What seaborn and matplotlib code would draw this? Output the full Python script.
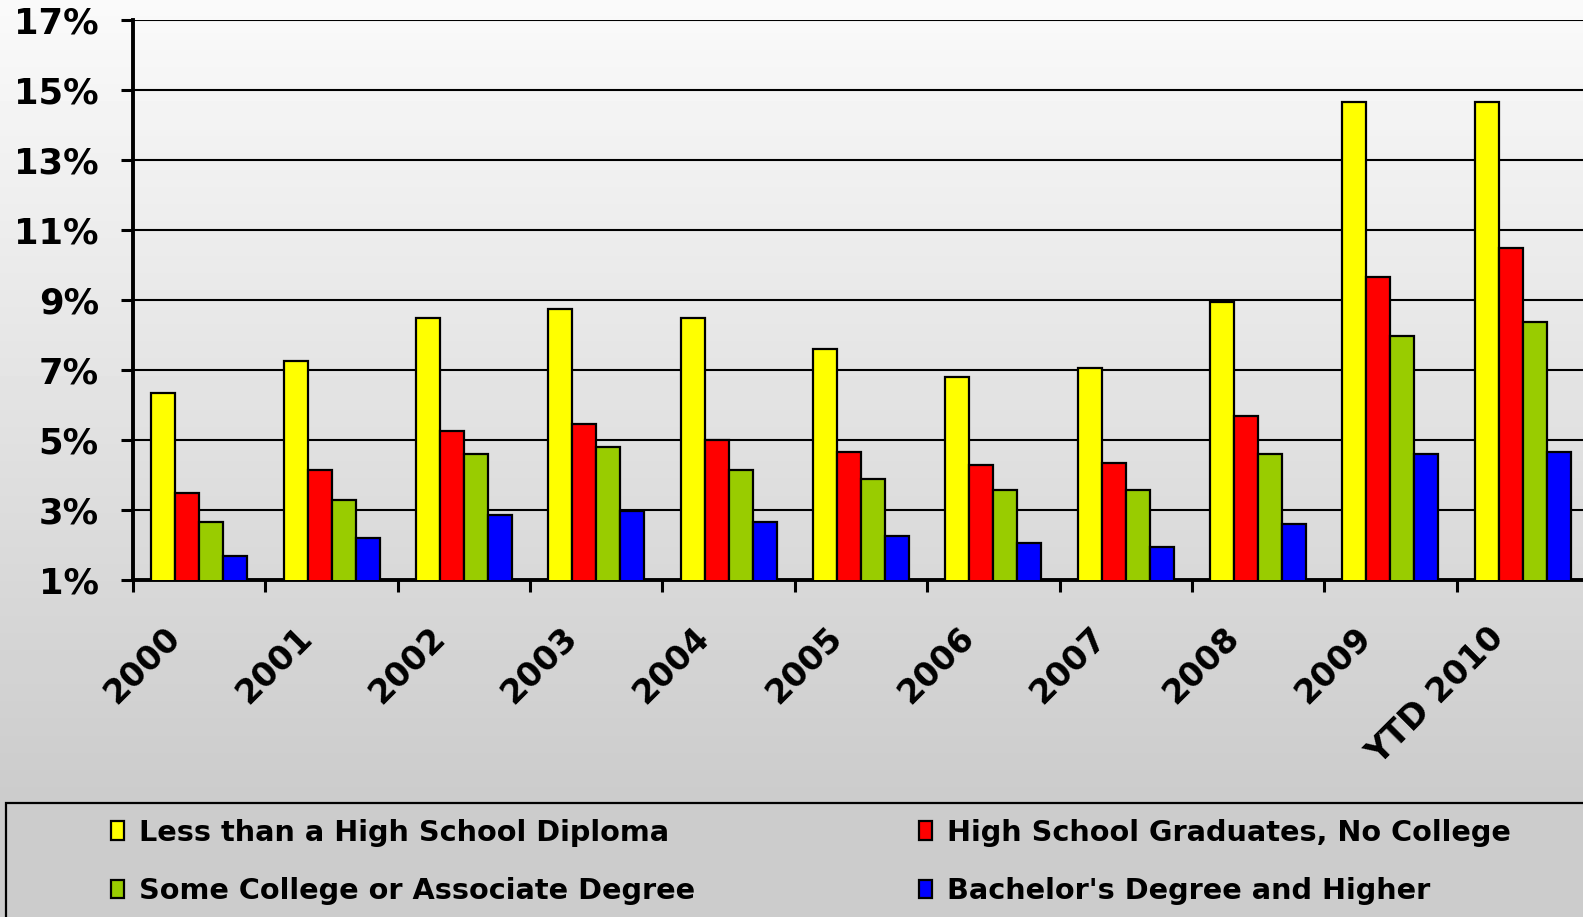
import numpy as np
import pandas as pd
import matplotlib
matplotlib.use("Agg")
import matplotlib.pyplot as plt
import matplotlib.transforms as mtransforms
import seaborn as sns
from matplotlib.patches import Rectangle
from matplotlib.ticker import FixedLocator

years = ["2000", "2001", "2002", "2003", "2004", "2005", "2006", "2007", "2008", "2009", "YTD 2010"]
series = ["Less than a High School Diploma", "High School Graduates, No College",
          "Some College or Associate Degree", "Bachelor's Degree and Higher"]
less_hs = [6.35, 7.27, 8.49, 8.75, 8.49, 7.59, 6.81, 7.07, 8.95, 14.67, 14.67]
hs_grad = [3.50, 4.13, 5.25, 5.45, 4.99, 4.67, 4.28, 4.34, 5.69, 9.67, 10.50]
some_col = [2.65, 3.30, 4.60, 4.79, 4.14, 3.89, 3.56, 3.56, 4.59, 7.97, 8.36]
bachelor = [1.68, 2.21, 2.85, 2.98, 2.65, 2.26, 2.07, 1.94, 2.59, 4.59, 4.66]
colors = ["#FFFF00", "#FF0000", "#99CC00", "#0000FF"]
yticks = [1, 3, 5, 7, 9, 11, 13, 15, 17]

rows = []
for s, vals in zip(series, [less_hs, hs_grad, some_col, bachelor]):
    for y, v in zip(years, vals):
        rows.append({"year": y, "series": s, "value": v})
df = pd.DataFrame(rows)

sns.set_theme(style="white")
plt.rcParams['font.family'] = ['DejaVu Sans']
plt.rcParams['text.color'] = 'black'
plt.rcParams['xtick.color'] = 'black'
plt.rcParams['ytick.color'] = 'black'
plt.rcParams['axes.labelcolor'] = 'black'

fig = plt.figure(figsize=(15.83, 9.17), dpi=100)

# gradient background
bg = fig.add_axes([0, 0, 1, 1], zorder=-10)
h = 917
yy = np.arange(h)
vals = np.clip(0.98 - (0.98 - 0.80) * yy / 790.0, 0.80, 1.0)
grad = np.repeat(vals[:, None], 10, axis=1)
bg.imshow(grad, cmap="gray", vmin=0, vmax=1, aspect="auto", extent=[0, 1, 0, 1], origin="upper")
bg.axis("off")

ax = fig.add_axes([133 / 1583, 1 - 580 / 917, 1456 / 1583, 560 / 917])
ax.set_facecolor("none")

sns.barplot(data=df, x="year", y="value", hue="series", order=years, hue_order=series,
            palette=colors, width=0.725, edgecolor="black", linewidth=1.6, ax=ax,
            saturation=1, zorder=3)

ax.set_xlim(-0.5, len(years) - 0.5)
ax.set_ylim(1, 17)
ax.set_yticks(yticks)
ax.set_yticklabels([f"{t}%" for t in yticks], fontsize=25.5, fontweight="bold")
ax.yaxis.grid(True, color="black", linewidth=1.5, zorder=0)
ax.set_axisbelow(True)
ax.tick_params(axis="y", direction="out", length=8.6, width=2.2, pad=16, left=True, colors="black")

ax.set_xticks(range(len(years)))
ax.set_xticklabels(years, fontsize=24, fontweight="bold", rotation=45, ha="right",
                   va="center", rotation_mode="anchor")
ax.tick_params(axis="x", which="major", length=0, pad=38)
offset = mtransforms.ScaledTranslation(-24 / 100, 0, fig.dpi_scale_trans)
for lab in ax.get_xticklabels():
    lab.set_transform(lab.get_transform() + offset)
ax.xaxis.set_minor_locator(FixedLocator(np.arange(-0.5, len(years) + 0.5, 1)))
ax.tick_params(axis="x", which="minor", direction="out", length=8.6, width=2.2, bottom=True, color="black")

ax.set_xlabel("")
ax.set_ylabel("")
for sp in ["top", "right"]:
    ax.spines[sp].set_visible(False)
for sp in ["left", "bottom"]:
    ax.spines[sp].set_color("black")
    ax.spines[sp].set_linewidth(2.8)

handles, labels = ax.get_legend_handles_labels()
ax.get_legend().remove()
order = [0, 2, 1, 3]
fig.add_artist(Rectangle((6 / 1583, -0.05), 1.1, (917 - 803) / 917 + 0.05,
                         transform=fig.transFigure, facecolor="none",
                         edgecolor="black", linewidth=1.6, zorder=1))
leg = fig.legend([handles[i] for i in order], [labels[i] for i in order],
                 ncol=2, loc="upper left", bbox_to_anchor=(111 / 1583, 1 - 819 / 917),
                 frameon=False, prop={"size": 20.7, "weight": "bold"},
                 handlelength=0.46, handleheight=0.63, handletextpad=0.5,
                 columnspacing=7.8, labelspacing=1.05, borderaxespad=0, borderpad=0)
for t in leg.get_texts():
    t.set_color("black")

fig.savefig("out.png", dpi=100)
